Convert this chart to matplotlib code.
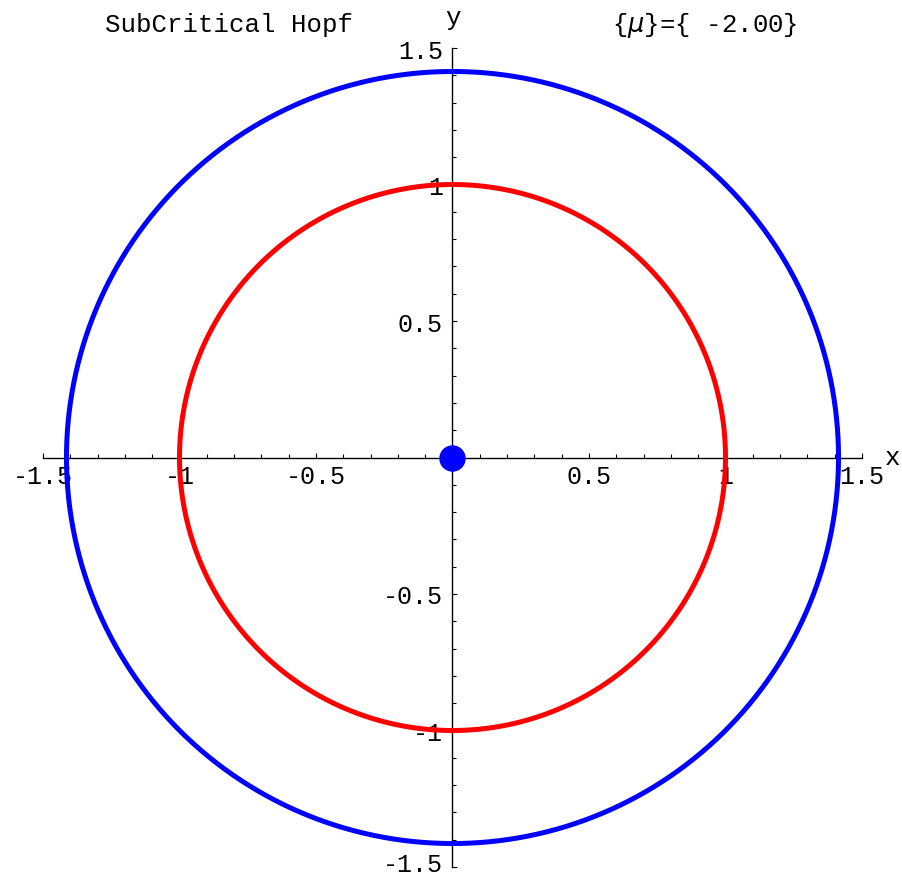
import numpy as np
import matplotlib.pyplot as plt
from matplotlib.ticker import FixedLocator, MultipleLocator

# limit cycles (radius, colour) and fixed point
radii = [1.414, 1.0]
colors = ["#0000ff", "#ff0000"]
fixed_x = [0.0]
fixed_y = [0.0]

major = [-1.5, -1.0, -0.5, 0.5, 1.0, 1.5]
major_labels = ["-1.5", "-1", "-0.5", "0.5", "1", "1.5"]

title = "SubCritical Hopf"
param = r"{$\mu$}={ -2.00}"

plt.rcParams['font.family'] = ['Liberation Mono', 'DejaVu Sans']
plt.rcParams['mathtext.fontset'] = 'dejavusans'

fig = plt.figure(figsize=(9.03, 8.78), dpi=100)
ax = fig.add_axes([43/903, 10/878, 819/903, 819/878])

t = np.linspace(0, 2*np.pi, 500)
for r, c in zip(radii, colors):
    ax.plot(r*np.cos(t), r*np.sin(t), color=c, lw=3.6, zorder=3)
ax.plot(fixed_x, fixed_y, 'o', color="#0000ff", ms=18, zorder=4)

ax.set_xlim(-1.5, 1.5)
ax.set_ylim(-1.5, 1.5)
ax.set_aspect('equal')

for s in ['top', 'right']:
    ax.spines[s].set_visible(False)
ax.spines['left'].set_position('zero')
ax.spines['bottom'].set_position('zero')
ax.spines['left'].set_linewidth(1.0)
ax.spines['bottom'].set_linewidth(1.0)

for axis in [ax.xaxis, ax.yaxis]:
    axis.set_major_locator(FixedLocator(major))
    axis.set_minor_locator(MultipleLocator(0.1))
ax.set_xticklabels(major_labels)
# lowest y label drawn separately so it stays inside the figure
ax.set_yticklabels([""] + major_labels[1:])
ax.tick_params(which='major', direction='in', length=3.8, width=0.8, labelsize=18)
ax.tick_params(which='minor', direction='in', length=2.7, width=0.8)
ax.tick_params(axis='x', pad=5)
ax.tick_params(axis='y', pad=7)
ax.annotate(major_labels[0], xy=(0, major[0]), xytext=(-10, -9.5),
            textcoords='offset pixels', ha='right', va='bottom', fontsize=18,
            annotation_clip=False)

fig.text(229/903, 1 - 25/878, title, fontsize=18.5, ha='center', va='center')
fig.text(705/903, 1 - 25/878, param, fontsize=18.5, ha='center', va='center')
fig.text(453/903, 1 - 18/878, "y", fontsize=18.5, ha='center', va='center')
fig.text(893/903, 1 - 458/878, "x", fontsize=18.5, ha='center', va='center')

fig.savefig("out.png", dpi=100)
